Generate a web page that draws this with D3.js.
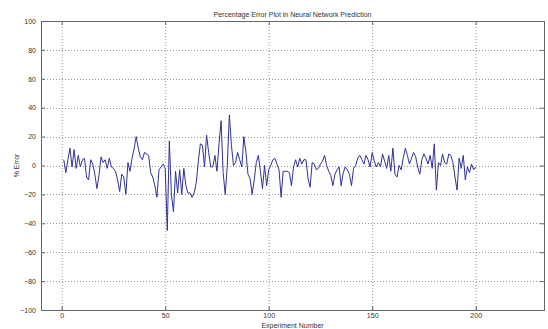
<!DOCTYPE html>
<html>
<head>
<meta charset="utf-8">
<script src="https://cdn.jsdelivr.net/npm/d3@7"></script>
<style>
  body { margin: 0; background: #fff; }
  svg text { font-family: "Liberation Sans", Arial, sans-serif; fill: #333; }
</style>
</head>
<body>
<div id="chart"></div>
<script>
// % error for each experiment
const errorPct = [
  4, -5, 4, 12, -1, 11, -2, 7, -1, 4,
  5, -8, -10, 4, 1, -6, -16, -7, 6, 2,
  4, -2, 5, -1, -2, -4, -10, -18, -6, -8,
  -20, 2, -4, 5, 12, 20, 12, 6, 4, 9,
  8, 7, -5, -8, -14, -22, -3, -1, 1, -2,
  -45, 17, -20, -32, -4, -19, -3, -20, -2, -14,
  -19, -19, -22, -19, -12, 3, 15, 14, -1, 21,
  9, -1, -1, 7, -4, 15, 31, -5, -20, 0,
  35, 14, 0, 2, 9, 4, -1, 20, 9, -6,
  -9, -20, -10, 2, 7, -4, -16, 0, -14, -3,
  0, 4, 5, 1, -3, -22, -4, -4, -4, -5,
  -14, -1, 4, -1, 5, 1, 4, 4, -9, -15,
  2, 1, -3, -2, 1, 3, 7, 0, -4, -7,
  -14, -6, -3, -1, -14, -5, -1, -3, -6, -14,
  -2, 0, 5, 7, 4, 1, 7, 4, -1, 9,
  3, -1, 2, -1, 8, 3, -2, 7, -4, 12,
  -6, -8, 0, -3, 5, 12, 7, 1, 5, 9,
  6, -1, -6, 4, 8, 5, 1, 7, -2, 15,
  -17, 2, 0, 8, 2, 1, 8, 7, 2, -8,
  -17, 5, -2, 7, -10, -1, -5, 1, -3, -1
];
const experiments = d3.range(1, errorPct.length + 1);
const xTicks = [0, 50, 100, 150, 200];
const yTicks = [-100, -80, -60, -40, -20, 0, 20, 40, 60, 80, 100];

const W = 548, H = 329;
const margin = { top: 21, right: 4, bottom: 19, left: 41 };
const width = W - margin.left - margin.right;
const height = H - margin.top - margin.bottom;

const svg = d3.select("#chart").append("svg")
  .attr("width", W)
  .attr("height", H);

const g = svg.append("g")
  .attr("transform", "translate(" + margin.left + "," + margin.top + ")");

const x = d3.scaleLinear().domain([-10, 233]).range([0, width]);
const y = d3.scaleLinear().domain([-100, 100]).range([height, 0]);

// dotted grid
g.append("g")
  .selectAll("line")
  .data(xTicks)
  .join("line")
  .attr("x1", d => x(d) + 0.5).attr("x2", d => x(d) + 0.5)
  .attr("y1", 0).attr("y2", height)
  .attr("stroke", "#999").attr("stroke-dasharray", "1,2");

g.append("g")
  .selectAll("line")
  .data(yTicks.slice(1, -1))
  .join("line")
  .attr("x1", 0).attr("x2", width)
  .attr("y1", d => Math.round(y(d)) + 0.5).attr("y2", d => Math.round(y(d)) + 0.5)
  .attr("stroke", "#999").attr("stroke-dasharray", "1,2");

// axes, ticks pointing inward (matlab style)
const xAxis = d3.axisBottom(x).tickValues(xTicks).tickSize(-4).tickPadding(3);
const yAxis = d3.axisLeft(y).tickValues(yTicks).tickSize(-4).tickPadding(5);

g.append("g")
  .attr("transform", "translate(0," + height + ")")
  .call(xAxis);
g.append("g").call(d3.axisTop(x).tickValues(xTicks).tickSize(-4).tickFormat(""));
g.append("g").call(yAxis);
g.append("g")
  .attr("transform", "translate(" + width + ",0)")
  .call(d3.axisRight(y).tickValues(yTicks).tickSize(-4).tickFormat(""));

g.selectAll(".domain").attr("stroke", "#666");
g.selectAll(".tick line").attr("stroke", "#666");
g.selectAll(".tick text").attr("font-size", 7).attr("fill", "#333");

// the error trace
const line = d3.line()
  .x((d, i) => x(experiments[i]))
  .y(d => y(d));

g.append("path")
  .datum(errorPct)
  .attr("fill", "none")
  .attr("stroke", "#30309a")
  .attr("stroke-width", 1)
  .attr("d", line);

// labels
svg.append("text")
  .attr("x", margin.left + width / 2)
  .attr("y", 17)
  .attr("text-anchor", "middle")
  .attr("font-size", 7)
  .text("Percentage Error Plot in Neural Network Prediction");

svg.append("text")
  .attr("x", margin.left + width / 2)
  .attr("y", 328)
  .attr("text-anchor", "middle")
  .attr("font-size", 7)
  .text("Experiment Number");

svg.append("text")
  .attr("transform", "translate(19," + (margin.top + height / 2) + ")rotate(-90)")
  .attr("text-anchor", "middle")
  .attr("font-size", 7)
  .text("% Error");
</script>
</body>
</html>
